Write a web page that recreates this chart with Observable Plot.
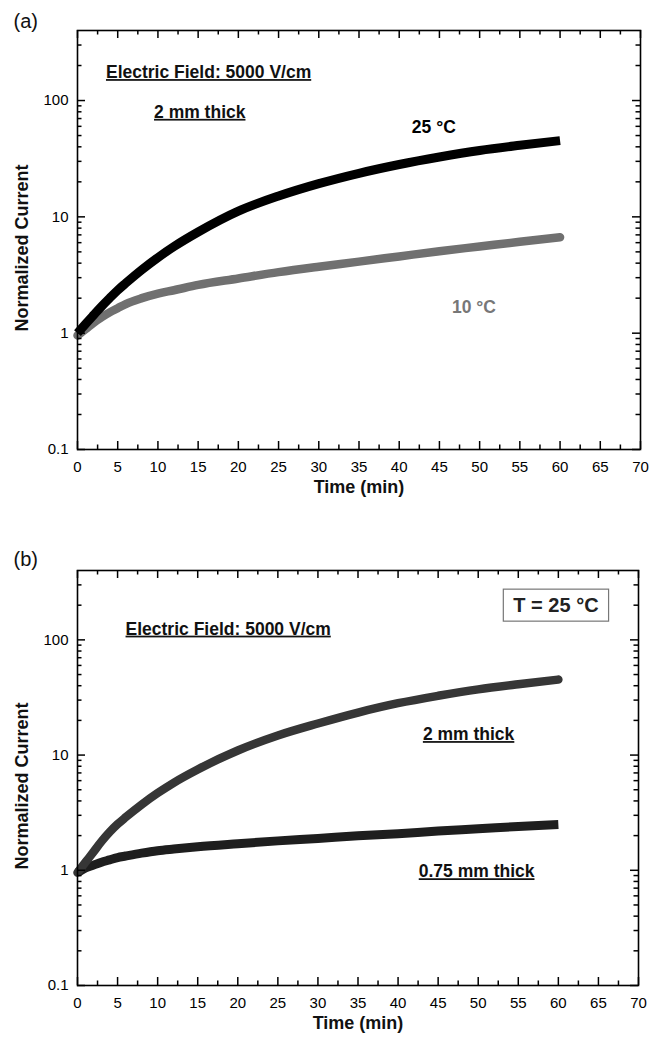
<!DOCTYPE html>
<html>
<head>
<meta charset="utf-8">
<script src="https://cdn.jsdelivr.net/npm/d3@7"></script>
<script src="https://cdn.jsdelivr.net/npm/@observablehq/plot@0.6"></script>
<style>
  html, body { margin: 0; padding: 0; background: #fff; }
  svg { display: block; font-family: "Liberation Sans", Arial, sans-serif; }
</style>
</head>
<body>
<div id="chart"></div>
<script>
// ---- data ----
const time = [0, 1, 2, 3, 4, 5, 6, 8, 10, 12, 15, 20, 25, 30, 35, 40, 45, 50, 55, 60];
// panel (a), 2 mm thick
const current25C = [1.0, 1.2, 1.43, 1.7, 2.0, 2.34, 2.69, 3.51, 4.47, 5.56, 7.41, 11.2, 15.1, 19.3, 23.7, 28.2, 32.7, 37.2, 41.2, 45.2];
const current10C = [0.955, 1.08, 1.23, 1.37, 1.51, 1.64, 1.78, 2.0, 2.19, 2.34, 2.6, 2.95, 3.35, 3.73, 4.12, 4.57, 5.07, 5.56, 6.1, 6.68];
// panel (b), T = 25 °C
const current2mm = [0.955, 1.175, 1.445, 1.78, 2.14, 2.51, 2.88, 3.72, 4.68, 5.75, 7.5, 10.96, 14.8, 18.8, 23.4, 28.2, 32.7, 37.2, 41.2, 45.2];
const current075mm = [0.955, 1.047, 1.109, 1.175, 1.23, 1.29, 1.33, 1.41, 1.48, 1.53, 1.6, 1.7, 1.8, 1.89, 1.99, 2.08, 2.19, 2.29, 2.4, 2.5];

const xTicks = [0, 5, 10, 15, 20, 25, 30, 35, 40, 45, 50, 55, 60, 65, 70];
const xMinorTicks = [2.5, 7.5, 12.5, 17.5, 22.5, 27.5, 32.5, 37.5, 42.5, 47.5, 52.5, 57.5, 62.5, 67.5];
const yTicks = [0.1, 1, 10, 100];
const yTickLabels = ["0.1", "1", "10", "100"];
const yMinorTicks = [0.2, 0.3, 0.4, 0.5, 0.6, 0.7, 0.8, 0.9, 2, 3, 4, 5, 6, 7, 8, 9,
  20, 30, 40, 50, 60, 70, 80, 90, 200, 300];

const xLabel = "Time (min)";
const yLabel = "Normalized Current";

const notesA = [
  {text: "Electric Field: 5000 V/cm", x: 16.3, y: 156, kind: "underline"},
  {text: "2 mm thick", x: 15.2, y: 71, kind: "underline"},
  {text: "25 °C", x: 44.3, y: 53, kind: "black"},
  {text: "10 °C", x: 49.3, y: 1.48, kind: "gray"}
];
const notesB = [
  {text: "Electric Field: 5000 V/cm", x: 18.8, y: 111, kind: "underline"},
  {text: "2 mm thick", x: 48.8, y: 13.5, kind: "underline"},
  {text: "0.75 mm thick", x: 49.8, y: 0.87, kind: "underline"},
  {text: "T = 25 °C", x: 59.7, y: 174, kind: "box"}
];

// ---- helpers ----
function series(name, ys) { return time.map((t, i) => ({name, t, v: ys[i]})); }

function inwardTicks(fw, fh) {
  const maj = 8, min = 4.5, sw = 1.5;
  return [
    Plot.tickX(xTicks, {x: d => d, insetTop: fh - maj, stroke: "black", strokeWidth: sw}),
    Plot.tickX(xTicks, {x: d => d, insetBottom: fh - maj, stroke: "black", strokeWidth: sw}),
    Plot.tickX(xMinorTicks, {x: d => d, insetTop: fh - min, stroke: "black", strokeWidth: sw}),
    Plot.tickX(xMinorTicks, {x: d => d, insetBottom: fh - min, stroke: "black", strokeWidth: sw}),
    Plot.tickY(yTicks, {y: d => d, insetRight: fw - maj, stroke: "black", strokeWidth: sw}),
    Plot.tickY(yTicks, {y: d => d, insetLeft: fw - maj, stroke: "black", strokeWidth: sw}),
    Plot.tickY(yMinorTicks, {y: d => d, insetRight: fw - min, stroke: "black", strokeWidth: sw}),
    Plot.tickY(yMinorTicks, {y: d => d, insetLeft: fw - min, stroke: "black", strokeWidth: sw})
  ];
}

const colors = {black: "#000", gray: "#777", underline: "#111", box: "#222"};

function panel({height, marginTop, marginBottom, marginRight, lines, notes, tag, tagDy, yLabelDy}) {
  const width = 661, marginLeft = 77;
  const fw = width - marginLeft - marginRight, fh = height - marginTop - marginBottom;
  return Plot.plot({
    width, height, marginLeft, marginRight, marginTop, marginBottom,
    style: {fontFamily: "'Liberation Sans', Arial, sans-serif", background: "white", color: "black"},
    x: {domain: [0, 70]},
    y: {type: "log", domain: [0.1, 400]},
    marks: [
      ...lines.map(l => Plot.line(l.data, {x: "t", y: "v", stroke: l.color, strokeWidth: l.width,
        strokeLinecap: l.cap, strokeLinejoin: "round", curve: "monotone-x"})),
      Plot.frame({stroke: "black", strokeWidth: 1.6}),
      ...inwardTicks(fw, fh),
      Plot.axisX({ticks: xTicks, tickSize: 0, tickPadding: 12, fontSize: 15, label: null, tickFormat: d => String(d)}),
      Plot.axisY({ticks: yTicks, tickSize: 0, tickPadding: 9, fontSize: 15, label: null,
        tickFormat: d => yTickLabels[yTicks.indexOf(d)]}),
      Plot.text([xLabel], {frameAnchor: "bottom", text: d => d, dy: 43, fontSize: 18, fontWeight: "bold", fill: "#111"}),
      Plot.text([yLabel], {frameAnchor: "left", text: d => d, textAnchor: "middle", dx: -55, dy: yLabelDy,
        rotate: -90, fontSize: 18, fontWeight: "bold", fill: "#111"}),
      Plot.text([tag], {frameAnchor: "top-left", text: d => d, dx: -64, dy: tagDy, textAnchor: "start",
        lineAnchor: "bottom", fontSize: 20, fill: "#111"}),
      Plot.text(notes, {x: "x", y: "y", text: "text", fontSize: d => d.kind === "box" ? 20 : 17.5,
        fontWeight: "bold", fill: d => colors[d.kind], lineAnchor: "bottom"})
    ]
  });
}

const svgA = panel({
  height: 520, marginTop: 30, marginBottom: 71, marginRight: 21,
  lines: [
    {data: series("10 °C", current10C), color: "#707070", width: 8.5, cap: "round"},
    {data: series("25 °C", current25C), color: "#000", width: 9, cap: "butt"}
  ],
  notes: notesA, tag: "(a)", tagDy: -3, yLabelDy: 8
});
const svgB = panel({
  height: 521, marginTop: 50, marginBottom: 56, marginRight: 23,
  lines: [
    {data: series("0.75 mm thick", current075mm), color: "#1e1e1e", width: 9, cap: "butt"},
    {data: series("2 mm thick", current2mm), color: "#363636", width: 8.5, cap: "round"}
  ],
  notes: notesB, tag: "(b)", tagDy: -5, yLabelDy: 8
});

const root = document.getElementById("chart");
root.append(svgA, svgB);

// underline annotations and box the temperature label
const underlined = new Set([...notesA, ...notesB].filter(d => d.kind === "underline").map(d => d.text));
for (const svg of [svgA, svgB]) {
  d3.select(svg).selectAll("text").each(function() {
    const t = this.textContent;
    if (underlined.has(t)) this.setAttribute("text-decoration", "underline");
    if (t === "T = 25 °C") {
      const bb = this.getBBox();
      const rect = document.createElementNS("http://www.w3.org/2000/svg", "rect");
      rect.setAttribute("x", bb.x - 10);
      rect.setAttribute("y", bb.y - 5);
      rect.setAttribute("width", bb.width + 20);
      rect.setAttribute("height", bb.height + 10);
      rect.setAttribute("fill", "white");
      rect.setAttribute("stroke", "#777");
      rect.setAttribute("stroke-width", 1.2);
      const tr = this.getAttribute("transform");
      if (tr) rect.setAttribute("transform", tr);
      this.parentNode.insertBefore(rect, this);
    }
  });
}
</script>
</body>
</html>
